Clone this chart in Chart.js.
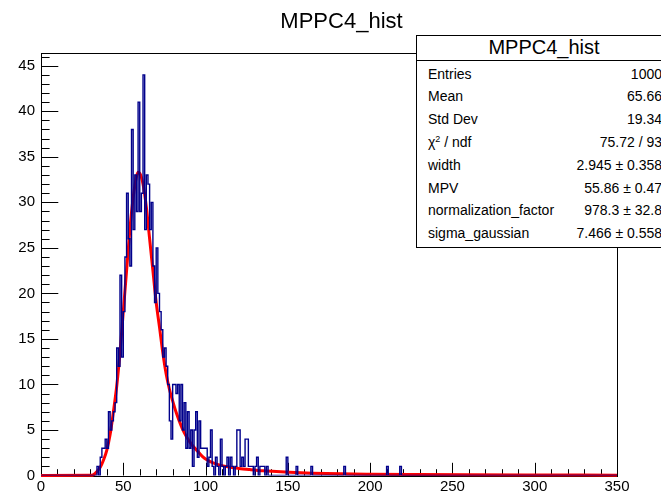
<!DOCTYPE html>
<html>
<head>
<meta charset="utf-8">
<script src="https://cdn.jsdelivr.net/npm/chart.js@4/dist/chart.umd.min.js"></script>
<style>
  body { margin: 0; background: #fff; overflow: hidden; font-family: "Liberation Sans", Arial, sans-serif; }
  #wrap { position: relative; width: 661px; height: 494px; overflow: hidden; }
  #title { position: absolute; left: 0; width: 683px; top: 8px; text-align: center; font-size: 22px; color: #000; }
  #stats { position: absolute; left: 416px; top: 35px; width: 256px; height: 213px; border: 1px solid #000; background: #fff; box-sizing: border-box; }
  #stats .head { height: 24px; line-height: 23px; text-align: center; font-size: 20px; border-bottom: 1px solid #000; }
  #stats .row { position: absolute; left: 11px; width: 234px; font-size: 14px; height: 16px; line-height: 16px; white-space: nowrap; }
  #stats .row span { position: absolute; right: 0; }
  #stats sup { font-size: 9px; line-height: 0; vertical-align: 5px; }
</style>
</head>
<body>
<div id="wrap">
  <canvas id="c" width="661" height="494"></canvas>
  <div id="title">MPPC4_hist</div>
  <div id="stats"><div class="head">MPPC4_hist</div></div>
</div>
<script>
// histogram: 350 bins of width 1 from 0 to 350
const firstBin = 33;
const mainCounts = [
  0, 1, 0, 2, 3, 3, 4, 3, 7, 5, 6, 7, 8,          // 33-45
  14, 12, 22, 13, 18, 24, 31, 26, 23, 38,          // 46-55
  27, 33, 29, 41, 29, 31, 44, 27, 33, 32,          // 56-65
  27, 30, 23, 19, 25, 20, 18, 16, 13, 14,          // 66-75
  12, 10, 6, 4, 10, 10, 9, 10, 6, 10,              // 76-85
  5, 8, 3, 7, 3, 5, 1, 5, 7, 2,                    // 86-95
  6, 3, 3, 3, 3, 1, 2, 5, 1, 0,                    // 96-105
  2, 1, 0, 4, 1, 0, 1, 2, 0, 2,                    // 106-115
  1, 0, 1, 5, 5, 1, 2, 1, 4, 4,                    // 116-125
  1, 1, 1, 0, 1, 2, 0, 1, 1, 1, 0, 1               // 126-137
];
const tailBins = [149, 155, 164, 184, 210, 218];
const tailCounts = [2, 1, 1, 1, 1, 1];

// fit curve
const fitX = [0, 30, 32, 34, 36, 38, 40, 42, 44, 46, 48, 50, 52, 54, 56, 58, 59, 60, 62, 64, 66, 68, 70, 72, 74, 76, 78, 80, 82, 84, 86, 88, 90, 92, 95, 98, 101, 105, 110, 115, 120, 127, 135, 143, 151, 165, 182, 200, 230, 260, 300, 350];
const fitY = [0, 0.02, 0.1, 0.45, 0.9, 1.7, 2.8, 4.5, 7, 9.8, 13.5, 18, 22.5, 27, 30.5, 32.8, 33.3, 33.2, 32, 29.5, 26, 22.5, 19, 16.3, 13.5, 11.2, 9.5, 8.2, 7, 6, 5.1, 4.4, 3.8, 3.3, 2.7, 2.1, 1.7, 1.35, 1.08, 0.9, 0.78, 0.65, 0.52, 0.43, 0.36, 0.26, 0.18, 0.14, 0.1, 0.07, 0.05, 0.04];

const xTicks = [0, 50, 100, 150, 200, 250, 300, 350];
const yTicks = [0, 5, 10, 15, 20, 25, 30, 35, 40, 45];

const statLabels = ["Entries", "Mean", "Std Dev", "χ<sup>2</sup> / ndf", "width", "MPV", "normalization_factor", "sigma_gaussian"];
const statValues = ["1000", "65.66", "19.34", "75.72 / 93", "2.945 ± 0.358", "55.86 ± 0.47", "978.3 ± 32.8", "7.466 ± 0.558"];

const nBins = 350;
const counts = new Array(nBins).fill(0);
mainCounts.forEach((v, i) => counts[firstBin + i] = v);
tailBins.forEach((b, i) => counts[b] = tailCounts[i]);

const histPoints = counts.map((v, i) => ({ x: i, y: v }));
histPoints.push({ x: nBins, y: counts[nBins - 1] });
const fitPoints = fitX.map((x, i) => ({ x: x, y: fitY[i] }));

// stats box rows
const stats = document.getElementById("stats");
statLabels.forEach((lab, i) => {
    const row = document.createElement("div");
    row.className = "row";
    row.style.top = (29.5 + i * 22.8) + "px";
    row.innerHTML = lab + "<span>" + statValues[i] + "</span>";
    stats.appendChild(row);
});

// ROOT style frame with inward ticks
const rootFrame = {
    id: "rootFrame",
    beforeDatasetsDraw(chart) {
        const { ctx, chartArea: a, scales: { x, y } } = chart;
        ctx.save();
        ctx.strokeStyle = "#000";
        ctx.lineWidth = 1;
        ctx.strokeRect(Math.round(a.left) + 0.5, Math.round(a.top) + 0.5,
            Math.round(a.right - a.left), Math.round(a.bottom - a.top));
        ctx.beginPath();
        for (let v = 0; v <= 350; v += 10) {
            const px = Math.round(x.getPixelForValue(v)) + 0.5;
            const len = v % 50 === 0 ? 12.7 : 6.3;
            ctx.moveTo(px, a.bottom);
            ctx.lineTo(px, a.bottom - len);
        }
        for (let v = 0; v <= 46; v += 1) {
            const py = Math.round(y.getPixelForValue(v)) + 0.5;
            const len = v % 5 === 0 ? 17.3 : 8.6;
            ctx.moveTo(a.left, py);
            ctx.lineTo(a.left + len, py);
        }
        ctx.stroke();
        ctx.restore();
    }
};

new Chart(document.getElementById("c"), {
    type: "line",
    data: {
        datasets: [
            {
                data: histPoints,
                stepped: true,
                borderColor: "#00008b",
                borderWidth: 1.4,
                pointRadius: 0,
                fill: false
            },
            {
                data: fitPoints,
                borderColor: "#ff0000",
                borderWidth: 3,
                pointRadius: 0,
                cubicInterpolationMode: "monotone",
                fill: false,
                clip: 3
            }
        ]
    },
    options: {
        responsive: false,
        animation: false,
        devicePixelRatio: 1,
        layout: { padding: { left: 0, top: 53, right: 44, bottom: 0 } },
        plugins: { legend: { display: false }, tooltip: { enabled: false } },
        scales: {
            x: {
                type: "linear",
                min: 0,
                max: 350,
                afterFit: s => { s.height = 18.5; },
                afterBuildTicks: s => { s.ticks = xTicks.map(v => ({ value: v })); },
                grid: { display: false, drawTicks: false },
                border: { display: false },
                ticks: { padding: 2, color: "#000", maxRotation: 0, autoSkip: false,
                    font: { family: "Liberation Sans", size: 15 } }
            },
            y: {
                min: 0,
                max: 46.4,
                afterFit: s => { s.width = 41; },
                afterBuildTicks: s => { s.ticks = yTicks.map(v => ({ value: v })); },
                grid: { display: false, drawTicks: false },
                border: { display: false },
                ticks: { padding: 6, color: "#000", autoSkip: false,
                    font: { family: "Liberation Sans", size: 15 } }
            }
        }
    },
    plugins: [rootFrame]
});
</script>
</body>
</html>
